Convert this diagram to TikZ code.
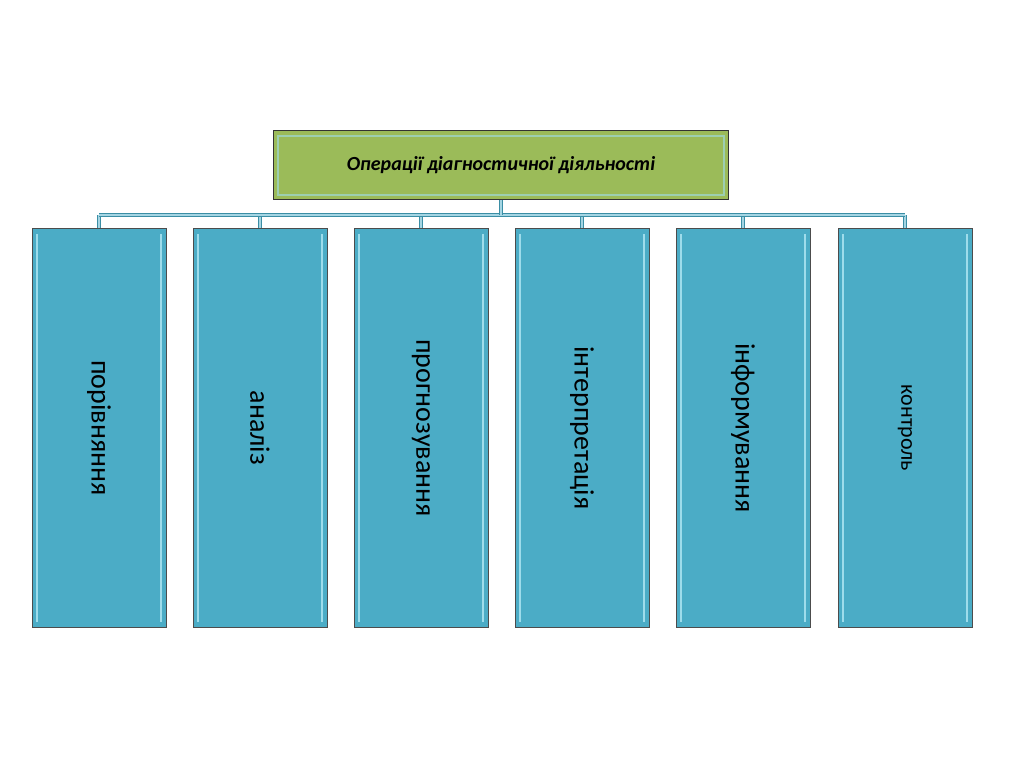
\documentclass[tikz,border=0pt]{standalone}
\usepackage{fontspec}
\setmainfont{Carlito}
\begin{document}
\begin{tikzpicture}[x=1pt,y=-1pt,
  col/.style={draw=black!70,line width=1pt,fill=colfill,minimum width=134pt,minimum height=398pt,inner sep=0pt},
  inner/.style={draw=colhi,line width=2pt},
  conn/.style={draw=conndark,line width=1pt,double=connlight,double distance=1.6pt}]
\definecolor{colfill}{HTML}{4BACC6}
\definecolor{colhi}{HTML}{9EDCEB}
\definecolor{conndark}{HTML}{3B8EA5}
\definecolor{connlight}{HTML}{A5D5E3}
\definecolor{topfill}{HTML}{9BBB59}
\useasboundingbox (0,0) rectangle (1024,767);
\node[draw=black!80,line width=1pt,fill=topfill,minimum width=455pt,minimum height=69pt,inner sep=0pt] (top) at (501,165)
  {\fontsize{20}{24}\selectfont\bfseries\itshape Операції діагностичної діяльності};
\draw[colhi!60!topfill,line width=2pt] (278,136) rectangle (724,195);
\coordinate (h) at (501,215);
\foreach \i/\x/\t/\s in {1/99/порівняння/28,2/260/аналіз/28,3/421/прогнозування/28,4/582/інтерпретація/28,5/743/інформування/28,6/905/контроль/22}{
  \node[col] (c\i) at (\x,428) {};
  \draw[inner] (\x-62,234) -- (\x-62,622);
  \draw[inner] (\x+62,234) -- (\x+62,622);
  \node[rotate=-90] at (c\i) {\fontsize{\s}{\s}\selectfont \t};
  \draw[conn] (c\i.north) -- (\x,215);
}
\draw[conn] (99,215) -- (905,215);
\draw[conn] (top.south) -- (h);
\end{tikzpicture}
\end{document}
